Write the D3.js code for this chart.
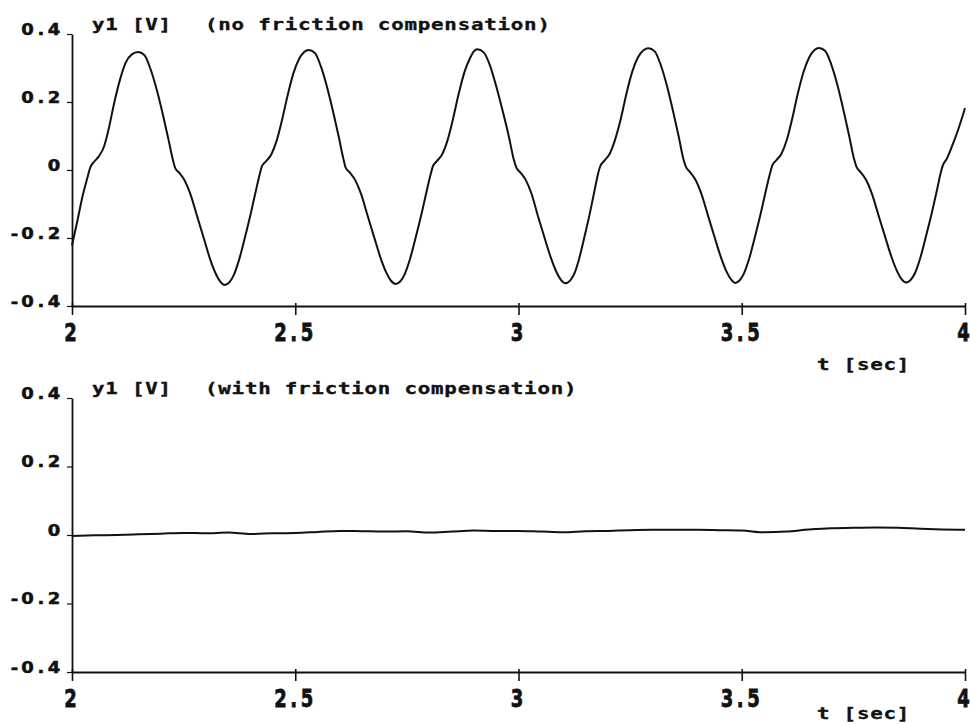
<!DOCTYPE html>
<html>
<head>
<meta charset="utf-8">
<script src="https://cdn.jsdelivr.net/npm/d3@7"></script>
<style>
  html, body { margin: 0; padding: 0; background: #fff; }
  svg text { font-family: "DejaVu Sans Mono", "Liberation Mono", monospace; font-weight: bold; fill: #111; }
  svg text.num { font-family: "DejaVu Sans", "Liberation Sans", sans-serif; }
</style>
</head>
<body>
<svg id="chart" width="970" height="724"></svg>
<script>
// Sampled response y1 [V] over t [sec], without friction compensation
const noCompT = [
  2.000, 2.012, 2.024, 2.034, 2.041, 2.050, 2.060, 2.072, 2.082, 2.095, 2.108, 2.120, 2.134, 2.148,
  2.162, 2.175, 2.190, 2.204, 2.216, 2.226, 2.231, 2.240, 2.252, 2.265, 2.280, 2.295, 2.310, 2.322, 2.332, 2.342,
  2.352, 2.362, 2.374, 2.387, 2.400, 2.412, 2.420, 2.425, 2.434, 2.446, 2.458, 2.470, 2.483, 2.496, 2.508, 2.520, 2.530,
  2.544, 2.557, 2.572, 2.586, 2.598, 2.608, 2.613, 2.622, 2.634, 2.647, 2.662, 2.677, 2.692, 2.704, 2.714, 2.725,
  2.735, 2.745, 2.757, 2.770, 2.783, 2.795, 2.803, 2.808, 2.817, 2.829, 2.841, 2.853, 2.866, 2.879, 2.891, 2.900, 2.908,
  2.922, 2.936, 2.951, 2.966, 2.979, 2.989, 2.995, 3.004, 3.016, 3.029, 3.043, 3.058, 3.073, 3.085, 3.095, 3.105,
  3.115, 3.125, 3.136, 3.148, 3.160, 3.171, 3.178, 3.183, 3.192, 3.204, 3.216, 3.229, 3.242, 3.255, 3.267, 3.280, 3.291,
  3.305, 3.318, 3.333, 3.347, 3.359, 3.369, 3.375, 3.384, 3.396, 3.409, 3.424, 3.439, 3.454, 3.466, 3.476, 3.485,
  3.495, 3.505, 3.517, 3.530, 3.543, 3.555, 3.563, 3.568, 3.577, 3.589, 3.601, 3.613, 3.626, 3.639, 3.651, 3.663, 3.673,
  3.687, 3.700, 3.715, 3.729, 3.741, 3.751, 3.757, 3.766, 3.778, 3.791, 3.806, 3.821, 3.836, 3.848, 3.858, 3.868,
  3.878, 3.888, 3.900, 3.913, 3.926, 3.938, 3.945, 3.950, 3.960, 3.971, 3.985, 4.000
];
const noCompV = [
  -0.222, -0.150, -0.075, -0.025, 0.008, 0.025, 0.040, 0.070, 0.120, 0.200, 0.268, 0.315, 0.340, 0.347,
  0.338, 0.300, 0.235, 0.160, 0.090, 0.030, 0.006, -0.008, -0.030, -0.070, -0.135, -0.200, -0.265, -0.305, -0.328, -0.338,
  -0.331, -0.310, -0.265, -0.200, -0.130, -0.060, -0.015, 0.010, 0.025, 0.045, 0.085, 0.145, 0.220, 0.285, 0.325, 0.347, 0.353,
  0.344, 0.306, 0.240, 0.165, 0.094, 0.032, 0.007, -0.007, -0.029, -0.069, -0.134, -0.199, -0.262, -0.302, -0.325, -0.335,
  -0.328, -0.307, -0.262, -0.197, -0.128, -0.058, -0.014, 0.010, 0.026, 0.046, 0.087, 0.148, 0.224, 0.288, 0.328, 0.349, 0.355,
  0.346, 0.308, 0.242, 0.166, 0.095, 0.033, 0.008, -0.007, -0.029, -0.069, -0.133, -0.198, -0.260, -0.300, -0.323, -0.333,
  -0.326, -0.305, -0.260, -0.195, -0.126, -0.056, -0.012, 0.011, 0.027, 0.047, 0.088, 0.150, 0.226, 0.290, 0.330, 0.352, 0.358,
  0.349, 0.311, 0.245, 0.168, 0.097, 0.034, 0.009, -0.006, -0.028, -0.068, -0.132, -0.197, -0.259, -0.299, -0.322, -0.332,
  -0.325, -0.304, -0.259, -0.194, -0.125, -0.055, -0.012, 0.012, 0.028, 0.048, 0.089, 0.151, 0.227, 0.291, 0.331, 0.353, 0.359,
  0.350, 0.312, 0.246, 0.169, 0.098, 0.035, 0.009, -0.006, -0.028, -0.068, -0.132, -0.196, -0.258, -0.298, -0.321, -0.331,
  -0.324, -0.303, -0.258, -0.193, -0.124, -0.054, -0.012, 0.012, 0.035, 0.070, 0.120, 0.182
];

// Sampled response y1 [V] over t [sec], with friction compensation
const withCompT = [
  2.00, 2.05, 2.10, 2.15, 2.20, 2.25, 2.30, 2.35, 2.40, 2.45, 2.50, 2.55, 2.60, 2.65, 2.70, 2.75, 2.80, 2.85, 2.90, 2.95,
  3.00, 3.05, 3.10, 3.15, 3.20, 3.25, 3.30, 3.35, 3.40, 3.45, 3.50, 3.55, 3.60, 3.65, 3.70, 3.75, 3.80, 3.85, 3.90, 3.95, 4.00
];
const withCompV = [
  -0.003, -0.001, 0.000, 0.002, 0.004, 0.006, 0.005, 0.007, 0.003, 0.005, 0.006, 0.009, 0.012, 0.011, 0.010, 0.011, 0.007, 0.010, 0.013, 0.012,
  0.012, 0.010, 0.008, 0.011, 0.012, 0.014, 0.015, 0.015, 0.015, 0.014, 0.013, 0.008, 0.010, 0.016, 0.020, 0.021, 0.022, 0.021, 0.018, 0.016, 0.015
];

// Axis ticks and labels
const xTicks = [2, 2.5, 3, 3.5, 4];
const xTickLabels = ["2", "2.5", "3", "3.5", "4"];
const yTicks = [-0.4, -0.2, 0, 0.2, 0.4];
const yTickLabels = ["-0.4", "-0.2", "0", "0.2", "0.4"];
const panelTitles = ["(no friction compensation)", "(with friction compensation)"];
const yAxisName = "y1 [V]";
const xAxisName = "t [sec]";

const svg = d3.select("#chart");

// Plotter-style lettering: wide, heavy glyphs on a fixed pitch
const FS = 16, SX = 1.3, LS = 0.6, PITCH = 13.2;
function letter(sel, sw) {
  return sel.style("font-size", FS + "px")
    .style("letter-spacing", LS + "px")
    .attr("stroke", "#111").attr("stroke-width", sw == null ? 0.35 : sw)
    .attr("x", 0).attr("y", 0).attr("dx", 0).attr("dy", 0);
}
function label(parent, X, Y, str) {
  return letter(parent.append("text"))
    .attr("transform", `translate(${X},${Y}) scale(${SX},1)`)
    .text(str);
}
// Numbers: each glyph centred in its own fixed-pitch cell.
// align: "end" puts the last cell's centre at 0, "middle" centres the run on 0.
function setPitched(textSel, align, sx, sy) {
  textSel.each(function () {
    const t = d3.select(this);
    const s = t.text();
    const n = s.length;
    const step = PITCH / sx;
    const first = align === "end" ? -(n - 1) * step : -(n - 1) * step / 2;
    t.classed("num", true)
      .style("font-size", "15px")
      .attr("stroke", "#111").attr("stroke-width", 0.5)
      .attr("text-anchor", "middle")
      .attr("dx", null).attr("dy", null).attr("y", 0)
      .attr("x", d3.range(n).map(i => (first + i * step).toFixed(2)).join(" "));
  });
}

const x = d3.scaleLinear().domain([2, 4]).range([72, 965]);

const panels = [
  { top: 34, bottom: 306, t: noCompT, v: noCompV, title: panelTitles[0], nameY: 370 },
  { top: 398, bottom: 672, t: withCompT, v: withCompV, title: panelTitles[1], nameY: 719 }
];

panels.forEach(p => {
  const y = d3.scaleLinear().domain([-0.4, 0.4]).range([p.bottom, p.top]);
  const g = svg.append("g");

  // y axis
  const yAxis = g.append("g")
    .attr("transform", `translate(${x(2)},0)`)
    .call(d3.axisLeft(y).tickValues(yTicks)
      .tickFormat(d => yTickLabels[yTicks.indexOf(d)])
      .tickSize(5).tickSizeOuter(0));
  yAxis.select(".domain").attr("stroke", "#111").attr("stroke-width", 1.8);
  yAxis.selectAll(".tick line").attr("stroke", "#111").attr("stroke-width", 1.2);
  const ySx = 1.2;
  yAxis.selectAll(".tick text")
    .call(setPitched, "end", ySx, 1)
    .attr("transform", `translate(-18,0) scale(${ySx},1)`);

  // x axis along the bottom of the panel
  const xAxis = g.append("g")
    .attr("transform", `translate(0,${p.bottom})`)
    .call(d3.axisBottom(x).tickValues(xTicks)
      .tickFormat(d => xTickLabels[xTicks.indexOf(d)])
      .tickSize(9).tickSizeOuter(0));
  xAxis.select(".domain").attr("stroke", "#111").attr("stroke-width", 1.8);
  xAxis.selectAll(".tick line").attr("stroke", "#111").attr("stroke-width", 1.6).attr("y1", -3);
  xAxis.selectAll(".tick text")
    .call(setPitched, "middle", ySx, 1.6)
    .attr("transform", `translate(-2,35) scale(${ySx},1.6)`);

  // data curve
  const pts = p.t.map((t, i) => [t, p.v[i]]);
  g.append("path")
    .datum(pts)
    .attr("fill", "none")
    .attr("stroke", "#111")
    .attr("stroke-width", 2)
    .attr("stroke-linejoin", "round")
    .attr("d", d3.line().x(d => x(d[0])).y(d => y(d[1])).curve(d3.curveMonotoneX));

  // panel heading
  label(g, 92, p.top - 4, yAxisName);
  label(g, 205, p.top - 4, p.title);

  // time axis name
  label(g, 817, p.nameY, xAxisName);
});
</script>
</body>
</html>
